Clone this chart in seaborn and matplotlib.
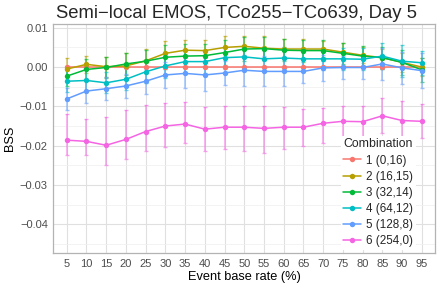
import numpy as np
import pandas as pd
import seaborn as sns
import matplotlib.pyplot as plt
from matplotlib.ticker import FuncFormatter, MultipleLocator

# Event base rates (%)
rates = [5, 10, 15, 20, 25, 30, 35, 40, 45, 50, 55, 60, 65, 70, 75, 80, 85, 90, 95]

combos = ["1 (0,16)", "2 (16,15)", "3 (32,14)", "4 (64,12)", "5 (128,8)", "6 (254,0)"]
palette = ["#F8766D", "#B79F00", "#00BA38", "#00BFC4", "#619CFF", "#F564E3"]

# BSS values
bss1 = [0.0] * 19
bss2 = [-0.0005, 0.0007, 0.0001, 0.0003, 0.0016, 0.0035, 0.0043, 0.0042, 0.0050, 0.0053,
        0.0048, 0.0046, 0.0046, 0.0046, 0.0038, 0.0030, 0.0024, 0.0012, 0.0000]
bss3 = [-0.0023, -0.0006, -0.0001, 0.0008, 0.0015, 0.0025, 0.0028, 0.0029, 0.0037, 0.0046,
        0.0047, 0.0043, 0.0042, 0.0042, 0.0035, 0.0028, 0.0024, 0.0012, -0.0007]
bss4 = [-0.0036, -0.0034, -0.0040, -0.0031, -0.0012, 0.0003, 0.0014, 0.0014, 0.0024, 0.0026,
        0.0021, 0.0023, 0.0021, 0.0021, 0.0021, 0.0020, 0.0028, 0.0015, 0.0011]
bss5 = [-0.0081, -0.0061, -0.0055, -0.0048, -0.0036, -0.0020, -0.0016, -0.0020, -0.0015, -0.0008,
        -0.0011, -0.0011, -0.0011, -0.0002, -0.0001, -0.0001, 0.0008, -0.0002, -0.0009]
bss6 = [-0.0186, -0.0189, -0.0199, -0.0184, -0.0164, -0.0150, -0.0145, -0.0158, -0.0153, -0.0153,
        -0.0156, -0.0153, -0.0153, -0.0143, -0.0138, -0.0139, -0.0124, -0.0136, -0.0138]

# error bar half widths (symmetric) for combinations 1-5
err1 = [0.0] * 19
err2 = [0.0027, 0.0022, 0.0025, 0.0034, 0.0029, 0.0032, 0.0027, 0.0026, 0.0029, 0.0025,
        0.0031, 0.0025, 0.0025, 0.0021, 0.0023, 0.0020, 0.0022, 0.0025, 0.0022]
err3 = [0.0026, 0.0027, 0.0027, 0.0029, 0.0029, 0.0030, 0.0030, 0.0030, 0.0031, 0.0030,
        0.0030, 0.0028, 0.0028, 0.0026, 0.0026, 0.0026, 0.0028, 0.0032, 0.0030]
err4 = [0.0028, 0.0028, 0.0027, 0.0028, 0.0028, 0.0030, 0.0030, 0.0030, 0.0030, 0.0030,
        0.0029, 0.0029, 0.0028, 0.0028, 0.0028, 0.0028, 0.0034, 0.0040, 0.0030]
err5 = [0.0028, 0.0030, 0.0030, 0.0031, 0.0032, 0.0032, 0.0038, 0.0042, 0.0030, 0.0040,
        0.0038, 0.0036, 0.0030, 0.0034, 0.0030, 0.0030, 0.0040, 0.0040, 0.0045]
# combination 6 has asymmetric intervals
lo6 = [-0.0224, -0.0225, -0.0249, -0.0235, -0.0214, -0.0203, -0.0192, -0.0213, -0.0209, -0.0213,
       -0.0218, -0.0208, -0.0201, -0.0193, -0.0186, -0.0193, -0.0167, -0.0181, -0.0181]
hi6 = [-0.0120, -0.0131, -0.0128, -0.0108, -0.0097, -0.0092, -0.0089, -0.0101, -0.0098, -0.0098,
       -0.0098, -0.0101, -0.0107, -0.0104, -0.0098, -0.0098, -0.0078, -0.0087, -0.0094]

series = [bss1, bss2, bss3, bss4, bss5, bss6]
errs = [err1, err2, err3, err4, err5]

rows = []
for name, vals in zip(combos, series):
    for r, v in zip(rates, vals):
        rows.append({"rate": r, "bss": v, "Combination": name})
df = pd.DataFrame(rows)

sns.set_theme(style="whitegrid")
plt.rcParams["font.family"] = ["Liberation Sans", "DejaVu Sans"]

fig = plt.figure(figsize=(4.41, 2.89), dpi=100)
ax = fig.add_axes([0.121, 0.1235, 0.865, 0.7925])

# error bars
for i, (name, vals, col) in enumerate(zip(combos, series, palette)):
    v = np.array(vals)
    if i < 5:
        e = np.array(errs[i])
        yerr = [e, e]
    else:
        yerr = [v - np.array(lo6), np.array(hi6) - v]
    ax.errorbar(rates, v, yerr=yerr, fmt="none", ecolor=col, elinewidth=1.1,
                capsize=1.2, capthick=1.0, alpha=0.6, zorder=2)

sns.lineplot(data=df, x="rate", y="bss", hue="Combination", palette=palette,
             marker="o", markersize=3.9, markeredgewidth=0, linewidth=1.1,
             ax=ax, zorder=3, legend=True)

ax.set_xlim(1.6, 98.3)
ax.set_ylim(-0.0474, 0.0109)
ax.set_xticks(rates)
ax.yaxis.set_major_locator(MultipleLocator(0.01))
ax.yaxis.set_minor_locator(MultipleLocator(0.005))


def fmt(v, pos):
    s = "%.2f" % v
    if s == "-0.00":
        s = "0.00"
    return s.replace("-", "\u2212")


ax.yaxis.set_major_formatter(FuncFormatter(fmt))

ax.grid(True, which="major", color="#E0E0E0", linewidth=0.8)
ax.grid(True, which="minor", axis="y", color="#EFEFEF", linewidth=0.5)
ax.grid(False, which="minor", axis="x")
for s in ax.spines.values():
    s.set_color("#B3B3B3")
    s.set_linewidth(0.9)
ax.tick_params(axis="both", which="major", length=2.5, width=0.6, color="#B3B3B3",
               labelsize=8, labelcolor="#4D4D4D", pad=1.5)
ax.tick_params(axis="both", which="minor", length=0)

ax.set_xlabel("Event base rate (%)", fontsize=9.2, color="black", labelpad=1.5)
ax.set_ylabel("BSS", fontsize=9.2, color="black", labelpad=3)
fig.suptitle("Semi\u2212local EMOS, TCo255\u2212TCo639, Day 5", fontsize=13.3,
             x=0.537, y=0.982, va="top")

handles, labels = ax.get_legend_handles_labels()
leg = ax.legend(handles, labels, title="Combination", loc="lower right",
                bbox_to_anchor=(0.95, 0.015), frameon=True, fontsize=8.4,
                title_fontsize=8.8, handlelength=1.5, handletextpad=0.4,
                labelspacing=0.35, borderpad=0.25, borderaxespad=0,
                alignment="left")
leg.get_frame().set_facecolor("white")
leg.get_frame().set_edgecolor("none")
leg.get_frame().set_alpha(1)

fig.savefig("out.png", dpi=100)
